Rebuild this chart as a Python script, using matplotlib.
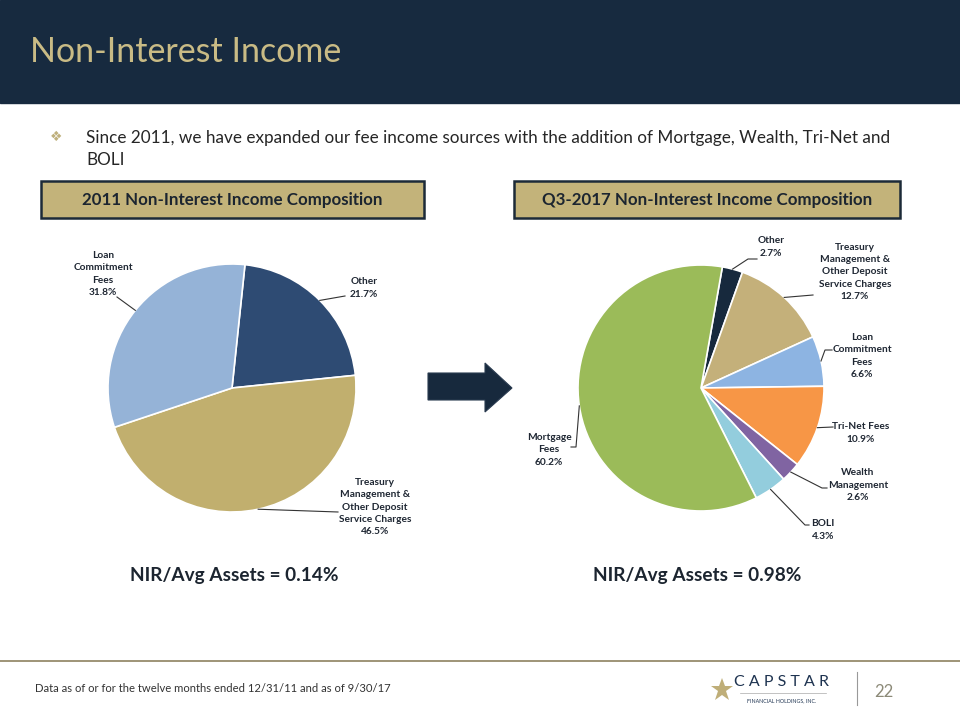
import numpy as np
import matplotlib.pyplot as plt
from matplotlib.patches import Rectangle, Polygon

plt.rcParams['font.family'] = ['Lato', 'DejaVu Sans']

# data
labels_2011 = ['Other', 'Treasury\nManagement &\nOther Deposit\nService Charges', 'Loan\nCommitment\nFees']
values_2011 = [21.7, 46.5, 31.8]
colors_2011 = ['#2E4B73', '#C1AF6E', '#95B3D7']

labels_2017 = ['Other', 'Treasury\nManagement &\nOther Deposit\nService Charges', 'Loan\nCommitment\nFees',
               'Tri-Net Fees', 'Wealth\nManagement', 'BOLI', 'Mortgage\nFees']
values_2017 = [2.7, 12.7, 6.6, 10.9, 2.6, 4.3, 60.2]
colors_2017 = ['#17293D', '#C4B07A', '#8DB4E2', '#F79646', '#8064A2', '#93CDDD', '#9BBB59']

nir_2011 = 0.14
nir_2017 = 0.98

NAVY = '#172A3F'
GOLD = '#C9BB85'
TXT = '#1F2733'

fig = plt.figure(figsize=(9.6, 7.2), dpi=100)
ax = fig.add_axes([0, 0, 1, 1])


def P(x, y):
    return x, 720 - y


# header band
ax.add_patch(Rectangle(P(0, 103), 960, 103, color=NAVY, zorder=0))
ax.text(*P(30, 52), 'Non-Interest Income', color=GOLD, fontsize=24.5, va='center', ha='left')

# bullet
ax.text(*P(56, 137), '\u2756', color='#BFB07C', fontsize=10, va='center', ha='center',
        family=['DejaVu Sans'])
ax.text(*P(86, 138), 'Since 2011, we have expanded our fee income sources with the addition of Mortgage, Wealth, Tri-Net and',
        color='#262626', fontsize=12.3, va='center', ha='left')
ax.text(*P(86, 160), 'BOLI', color='#262626', fontsize=12.3, va='center', ha='left')

# title boxes
for x0, x1, t in [(41, 424, '2011 Non-Interest Income Composition'),
                  (514, 900, 'Q3-2017 Non-Interest Income Composition')]:
    ax.add_patch(Rectangle(P(x0, 218), x1 - x0, 37, facecolor='#C3B37A', edgecolor='#1C2A38',
                           linewidth=1.8, zorder=1))
    ax.text(*P((x0 + x1) / 2, 200), t, color='#1C2530', fontsize=12.2, fontweight='bold',
            va='center', ha='center', zorder=2)


def draw_pie(vals, cols, labs, cx, cy, r, start, lab_pos, knees):
    wedges, _ = ax.pie(vals, colors=cols, startangle=start, counterclock=False, radius=r,
                       center=P(cx, cy), frame=True,
                       wedgeprops=dict(edgecolor='white', linewidth=1.2))
    for w, v, lab, (tx, ty), kn in zip(wedges, vals, labs, lab_pos, knees):
        mid = np.deg2rad((w.theta1 + w.theta2) / 2)
        ex, ey = cx + r * np.cos(mid), cy - r * np.sin(mid)
        pts = [(ex, ey)] + kn
        xs = [p[0] for p in pts]
        ys = [720 - p[1] for p in pts]
        ax.plot(xs, ys, color='#333333', lw=0.8, zorder=3)
        ax.text(*P(tx, ty), f'{lab}\n{v:.1f}%', fontsize=7.3, fontweight='bold', color=TXT,
                ha='center', va='center', linespacing=1.45, zorder=4)


draw_pie(values_2011, colors_2011, labels_2011, 232, 388, 124, 84,
         [(364, 288), (375, 507), (103, 274)],
         [[(345, 296)], [(338, 512)], [(117, 297)]])

draw_pie(values_2017, colors_2017, labels_2017, 701, 388, 123, 80,
         [(771, 247), (855, 272), (862, 356), (861, 433), (858, 485), (823, 530), (549, 450)],
         [[(748, 259), (757, 259)], [(813, 295)], [(825, 350), (832, 350)], [(833, 427)],
          [(822, 488), (827, 488)], [(805, 525), (809, 525)], [(576, 447), (571, 447)]])

# arrow
arrow = [P(428, 373), P(485, 373), P(485, 363), P(512, 388), P(485, 412), P(485, 400), P(428, 400)]
ax.add_patch(Polygon(arrow, closed=True, facecolor='#17293D', edgecolor='#2A3B50', lw=0.8, zorder=2))

# NIR text
ax.text(*P(234, 575), f'NIR/Avg Assets = {nir_2011:.2f}%', fontsize=13.7, fontweight='bold',
        color='#1C2530', ha='center', va='center')
ax.text(*P(697, 575), f'NIR/Avg Assets = {nir_2017:.2f}%', fontsize=13.7, fontweight='bold',
        color='#1C2530', ha='center', va='center')

# footer
ax.plot([0, 960], [720 - 661, 720 - 661], color='#8E8160', lw=1.2)
ax.text(*P(35, 689), 'Data as of or for the twelve months ended 12/31/11 and as of 9/30/17',
        fontsize=8.1, color='#333333', va='center', ha='left')
ax.plot(*P(722, 690), marker='*', markersize=17, color='#BFAE78', markeredgewidth=0)
ax.text(*P(782, 682), 'C A P S T A R', fontsize=11.5, color='#1E3350', va='center', ha='center')
ax.plot([740, 826], [720 - 693, 720 - 693], color='#AAAAAA', lw=0.5)
ax.text(*P(782, 701), 'FINANCIAL HOLDINGS, INC.', fontsize=3.8, color='#1E3350', va='center', ha='center')
ax.plot([857, 857], [720 - 672, 720 - 705], color='#999999', lw=0.8)
ax.text(*P(884, 692), '22', fontsize=12, color='#8C8A78', va='center', ha='center')

ax.set_xlim(0, 960)
ax.set_ylim(0, 720)
ax.axis('off')

fig.savefig('out.png', dpi=100)
